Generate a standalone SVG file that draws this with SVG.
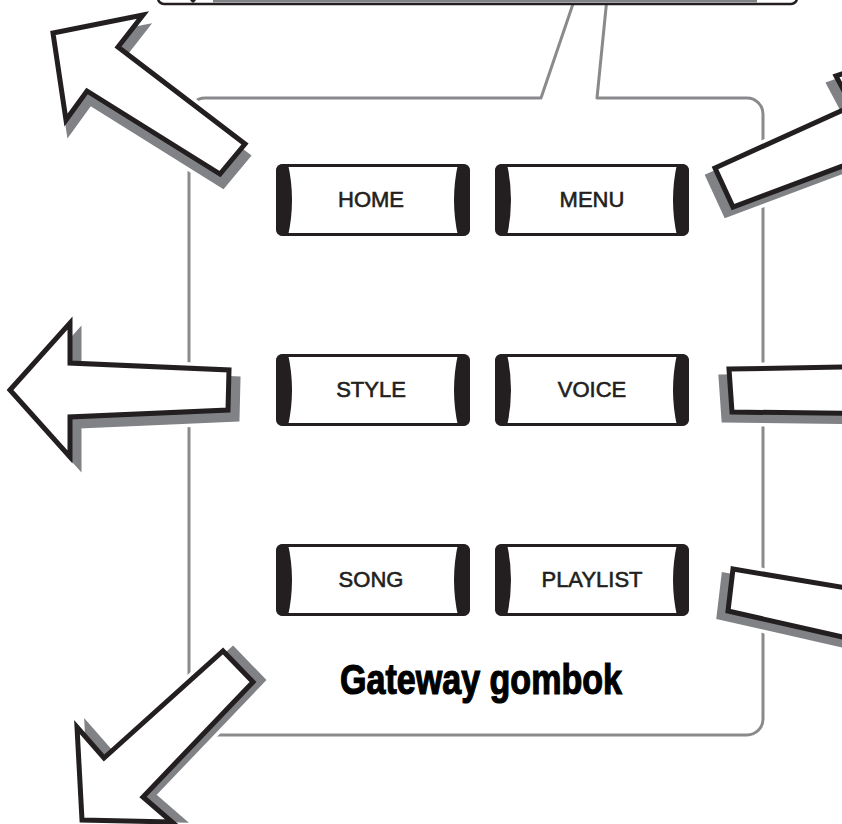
<svg xmlns="http://www.w3.org/2000/svg" xmlns:xlink="http://www.w3.org/1999/xlink" width="842" height="824" viewBox="0 0 842 824">
<style>
.frame{fill:none;stroke:#8a8a8d;stroke-width:3;stroke-linejoin:round}
.halo{fill:#fff;stroke:#fff;stroke-width:12;stroke-linejoin:miter;stroke-miterlimit:10}
.shadow{fill:#808285;stroke:#808285;stroke-width:5;stroke-linejoin:miter;stroke-miterlimit:10}
.arrow{fill:#fff;stroke:#231f20;stroke-width:5;stroke-linejoin:miter;stroke-miterlimit:10}
.btn-body{fill:#fff;stroke:#231f20;stroke-width:3}
.btn-bar{fill:#231f20}
.btn-label{font-family:"Liberation Sans",Arial,sans-serif;font-size:22px;fill:#231f20;stroke:#231f20;stroke-width:0.6;text-anchor:middle}
.title{font-family:"Liberation Sans",Arial,sans-serif;font-weight:bold;font-size:42px;fill:#000;stroke:#000;stroke-width:1.2;text-anchor:middle}
</style>
<defs>
<g id="btn">
<rect class="btn-body" x="1.5" y="1.5" width="191" height="69" rx="6"/>
<path class="btn-bar" d="M0,7 Q0,0 7,0 L12,0 Q20,36 12,72 L7,72 Q0,72 0,65 Z"/>
<path class="btn-bar" d="M194,7 Q194,0 187,0 L182,0 Q174,36 182,72 L187,72 Q194,72 194,65 Z"/>
</g>
<polygon id="a1" points="143,15 53,33 66,120 87,91 220,174 245,144 118,47"/>
<polygon id="a2" points="715,168 852,106 836,76 940,40 910,200 880,152 733,207"/>
<polygon id="a3" points="10,390 70,323 70,363 229,370 228,410 70,417 70,457"/>
<polygon id="a4" points="729,369 900,366 900,414 732,412"/>
<polygon id="a5" points="733,569 900,597 900,650 728,611"/>
<polygon id="a6" points="223,651 253,682 143,797 172,822 82,820 77,727 104,758"/>
</defs>

<g id="panel">
<path class="frame" d="M607,-2 L597,98 H747 A16,16 0 0 1 763,114 V719 A16,16 0 0 1 747,735 H205 A16,16 0 0 1 189,719 V114 A16,16 0 0 1 205,98 H541 L575,-2"/>
</g>

<g id="display-bar">
<rect x="158" y="-20" width="639" height="24" rx="6" fill="#fff" stroke="#231f20" stroke-width="2.5"/>
<rect x="213" y="-4" width="544" height="6.5" fill="#808285"/>
<path d="M190,0 L196,0 L194,2.5 L192,2.5 Z" fill="#231f20"/>
</g>

<g id="connectors">
<g id="arrow-top-left">
<use href="#a1" class="halo" transform="translate(3,12)"/>
<use href="#a1" class="halo"/>
<use href="#a1" class="shadow" transform="translate(3,12)"/>
<use href="#a1" class="arrow"/>
</g>
<g id="arrow-top-right">
<use href="#a2" class="halo" transform="translate(-7,8)"/>
<use href="#a2" class="halo"/>
<use href="#a2" class="shadow" transform="translate(-7,8)"/>
<use href="#a2" class="arrow"/>
</g>
<g id="arrow-left">
<use href="#a3" class="halo" transform="translate(9,9)"/>
<use href="#a3" class="halo"/>
<use href="#a3" class="shadow" transform="translate(9,9)"/>
<use href="#a3" class="arrow"/>
</g>
<g id="arrow-right">
<use href="#a4" class="halo" transform="translate(-8,8)"/>
<use href="#a4" class="halo"/>
<use href="#a4" class="shadow" transform="translate(-8,8)"/>
<use href="#a4" class="arrow"/>
</g>
<g id="arrow-right-low">
<use href="#a5" class="halo" transform="translate(-9,6)"/>
<use href="#a5" class="halo"/>
<use href="#a5" class="shadow" transform="translate(-9,6)"/>
<use href="#a5" class="arrow"/>
</g>
<g id="arrow-bottom-left">
<use href="#a6" class="halo" transform="translate(10,-2)"/>
<use href="#a6" class="halo"/>
<use href="#a6" class="shadow" transform="translate(10,-2)"/>
<use href="#a6" class="arrow"/>
</g>
</g>

<g id="btn-home" transform="translate(276,164)">
<use href="#btn"/>
<text class="btn-label" x="95" y="43">HOME</text>
</g>
<g id="btn-menu" transform="translate(495,164)">
<use href="#btn"/>
<text class="btn-label" x="97" y="43">MENU</text>
</g>
<g id="btn-style" transform="translate(276,354)">
<use href="#btn"/>
<text class="btn-label" x="95" y="43">STYLE</text>
</g>
<g id="btn-voice" transform="translate(495,354)">
<use href="#btn"/>
<text class="btn-label" x="97" y="43">VOICE</text>
</g>
<g id="btn-song" transform="translate(276,544)">
<use href="#btn"/>
<text class="btn-label" x="95" y="43">SONG</text>
</g>
<g id="btn-playlist" transform="translate(495,544)">
<use href="#btn"/>
<text class="btn-label" x="97" y="43">PLAYLIST</text>
</g>

<g id="label">
<text class="title" x="481" y="694" textLength="282" lengthAdjust="spacingAndGlyphs">Gateway gombok</text>
</g>
</svg>
